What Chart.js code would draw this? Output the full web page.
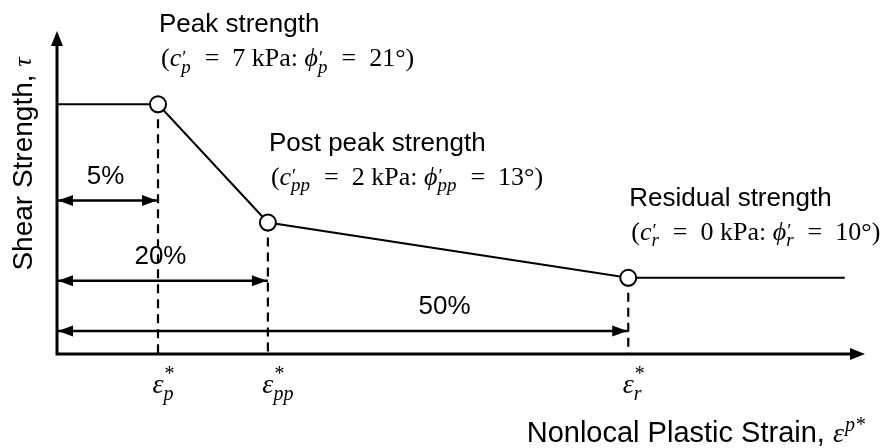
<!DOCTYPE html>
<html>
<head>
<meta charset="utf-8">
<script src="https://cdn.jsdelivr.net/npm/chart.js@4.4.1/dist/chart.umd.min.js"></script>
<style>
  html, body { margin: 0; background: #fff; }
  #wrap { width: 887px; height: 448px; }
</style>
</head>
<body>
<div id="wrap"><canvas id="chart"></canvas></div>
<script>
// schematic values (arbitrary units, 0-100 on both axes)
const strainPts = [0, 12.5, 26.1, 70.7, 97.5];
const strengthPts = [77.3, 77.3, 40.7, 23.6, 23.6];
const markerIdx = [1, 2, 3];            // open circles: peak, post peak, residual
const spanRows = [47.5, 22.7, 7.1];     // heights of the dimension arrows
const spanLabels = ["5%", "20%", "50%"];
const stageNames = ["Peak strength", "Post peak strength", "Residual strength"];
const stageSubs = ["p", "pp", "r"];
const stageCohesion = [7, 2, 0];
const stageFriction = [21, 13, 10];

const SANS = "'Liberation Sans', Arial, sans-serif";
const SERIF = "'Liberation Serif', 'DejaVu Serif', serif";
const INK = "#000";
const EQ = "\u2002=\u2002";

// math text: ["r", txt] roman, ["i", txt] italic, ["s", sup, sub, supLift, supItalic] scripts
function mathText(ctx, x, y, toks, size, draw) {
  let cx = x;
  for (const t of toks) {
    if (t[0] === "r" || t[0] === "i") {
      ctx.font = (t[0] === "i" ? "italic " : "") + size + "px " + SERIF;
      if (draw) ctx.fillText(t[1], cx, y);
      cx += ctx.measureText(t[1]).width;
    } else {
      const s = Math.round(size * 0.72);
      let w = 0;
      if (t[1]) {
        ctx.font = (t[4] ? "italic " : "") + s + "px " + SERIF;
        if (draw) ctx.fillText(t[1], cx + 1, y - size * (t[3] ?? 0.4));
        w = Math.max(w, ctx.measureText(t[1]).width + 1);
      }
      if (t[2]) {
        ctx.font = "italic " + s + "px " + SERIF;
        if (draw) ctx.fillText(t[2], cx, y + size * 0.24);
        w = Math.max(w, ctx.measureText(t[2]).width);
      }
      cx += w + 1;
    }
  }
  return cx - x;
}

function arrowHead(ctx, x, y, dir, len, half) {
  ctx.save();
  ctx.translate(x, y);
  ctx.rotate(dir);
  ctx.beginPath();
  ctx.moveTo(0, 0);
  ctx.lineTo(-len, -half);
  ctx.lineTo(-len, half);
  ctx.closePath();
  ctx.fill();
  ctx.restore();
}

const decor = {
  id: "decor",
  beforeDatasetsDraw(chart) {
    const { ctx, chartArea: a } = chart;
    ctx.save();
    ctx.strokeStyle = INK; ctx.fillStyle = INK; ctx.lineWidth = 3;
    ctx.beginPath();
    ctx.moveTo(a.left, a.top + 10); ctx.lineTo(a.left, a.bottom);
    ctx.lineTo(a.right - 10, a.bottom);
    ctx.stroke();
    arrowHead(ctx, a.left, a.top, -Math.PI / 2, 15, 6);
    arrowHead(ctx, a.right, a.bottom, 0, 15, 6);
    ctx.restore();
  },
  afterDatasetsDraw(chart) {
    const { ctx, chartArea: a, scales: { x, y } } = chart;
    ctx.save();
    ctx.fillStyle = INK;

    // dimension arrow heads + labels
    const labelShift = [-2, -2, 102];
    spanRows.forEach((r, k) => {
      const py = y.getPixelForValue(r);
      const px = x.getPixelForValue(strainPts[markerIdx[k]]);
      arrowHead(ctx, a.left + 1, py, Math.PI, 15, 5.5);
      arrowHead(ctx, px - 1, py, 0, 15, 5.5);
      ctx.font = "26px " + SANS;
      ctx.textAlign = "center"; ctx.textBaseline = "middle";
      ctx.fillText(spanLabels[k], (a.left + px) / 2 + labelShift[k], py - 24);
    });

    // stage annotations
    markerIdx.forEach((i, k) => {
      const px = x.getPixelForValue(strainPts[i]);
      const py = y.getPixelForValue(strengthPts[i]);
      ctx.font = "26px " + SANS;
      ctx.textAlign = "left"; ctx.textBaseline = "middle";
      ctx.fillText(stageNames[k], px + 1, py - 79);
      ctx.textBaseline = "alphabetic";
      const sub = stageSubs[k];
      mathText(ctx, px + 3, py - 38, [
        ["r", "("], ["i", "c"], ["s", "\u2032", sub, 0.1],
        ["r", EQ + stageCohesion[k] + " kPa: "], ["i", "\u03D5"], ["s", "\u2032", sub, 0.1],
        ["r", EQ + stageFriction[k] + "\u00B0)"]
      ], 26, true);
    });

    // strain markers under the axis
    ctx.textAlign = "left"; ctx.textBaseline = "alphabetic";
    markerIdx.forEach((i, k) => {
      const px = x.getPixelForValue(strainPts[i]);
      ctx.font = "italic 28px " + SERIF;
      const ew = ctx.measureText("\u03B5").width;
      mathText(ctx, px - ew / 2, a.bottom + 39, [["i", "\u03B5"], ["s", "*", stageSubs[k], 0.45]], 28, true);
    });

    // x axis title, right aligned under the arrow
    const xMath = [["i", "\u03B5"], ["s", "p*", "", 0.4, true]];
    const mw = mathText(ctx, 0, 0, xMath, 28, false);
    const t = "Nonlocal Plastic Strain, ";
    ctx.font = "29px " + SANS;
    const tw = ctx.measureText(t).width;
    const x0 = a.right + 1 - mw - tw;
    ctx.fillText(t, x0, a.bottom + 88);
    mathText(ctx, x0 + tw, a.bottom + 88, xMath, 28, true);

    // y axis title, rotated
    ctx.save();
    ctx.translate(24, 164);
    ctx.rotate(-Math.PI / 2);
    const yt = "Shear Strength, ";
    ctx.font = "italic 26px " + SERIF;
    const tauW = ctx.measureText("\u03C4").width;
    ctx.font = "28px " + SANS;
    const ytw = ctx.measureText(yt).width;
    ctx.textBaseline = "middle";
    ctx.fillText(yt, -(ytw + tauW) / 2, 0);
    ctx.font = "italic 26px " + SERIF;
    ctx.fillText("\u03C4", -(ytw + tauW) / 2 + ytw, 0);
    ctx.restore();

    ctx.restore();
  }
};

const curve = strainPts.map((v, i) => ({ x: v, y: strengthPts[i] }));
const radii = strainPts.map((_, i) => (markerIdx.includes(i) ? 8 : 0));

const datasets = [
  {
    data: curve, borderColor: INK, borderWidth: 2,
    pointRadius: radii, pointHoverRadius: radii,
    pointBackgroundColor: "#fff", pointBorderColor: INK, pointBorderWidth: 2,
    clip: false
  },
  ...markerIdx.map(i => ({
    data: [{ x: strainPts[i], y: strengthPts[i] }, { x: strainPts[i], y: 0 }],
    borderColor: INK, borderWidth: 2.2, borderDash: [9, 6], pointRadius: 0, clip: false
  })),
  ...spanRows.map((r, k) => ({
    data: [{ x: 0, y: r }, { x: strainPts[markerIdx[k]], y: r }],
    borderColor: INK, borderWidth: 2.5, pointRadius: 0, clip: false
  }))
];

new Chart(document.getElementById("chart"), {
  type: "line",
  data: { datasets },
  options: {
    responsive: true, maintainAspectRatio: false, animation: false,
    layout: { padding: { left: 57, top: 31, right: 22, bottom: 94 } },
    plugins: { legend: { display: false }, tooltip: { enabled: false } },
    scales: {
      x: { type: "linear", min: 0, max: 100, display: false },
      y: { type: "linear", min: 0, max: 100, display: false }
    }
  },
  plugins: [decor]
});
</script>
</body>
</html>
